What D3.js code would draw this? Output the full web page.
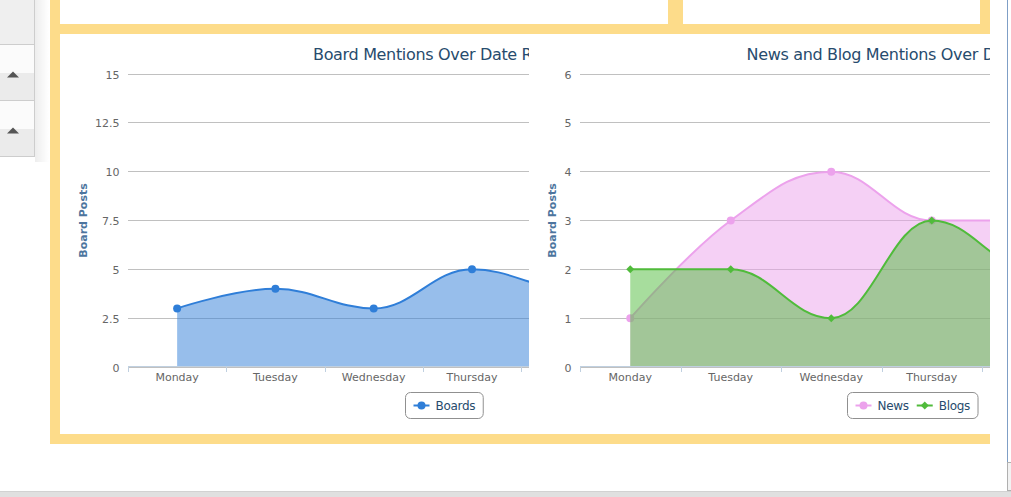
<!DOCTYPE html>
<html><head><meta charset="utf-8">
<script src="https://cdn.jsdelivr.net/npm/d3@7/dist/d3.min.js"></script>
<style>html,body{margin:0;padding:0;background:#fff;overflow:hidden}svg{display:block}</style>
</head><body>
<script>
// ---------- data ----------
const days = ["Monday","Tuesday","Wednesday","Thursday","Friday","Saturday","Sunday"];
const boardValues = [3, 4, 3, 5, 4, 5, 3];
const newsValues  = [1, 3, 4, 3, 3, 3, 2];
const blogValues  = [2, 2, 1, 3, 2, 3, 2];
const boardTicks = [0, 2.5, 5, 7.5, 10, 12.5, 15];
const mediaTicks = [0, 1, 2, 3, 4, 5, 6];
const boardTitle = "Board Mentions Over Date Range";
const mediaTitle = "News and Blog Mentions Over Date Range";
const yAxisTitle = "Board Posts";
const boardSeries = [{name: "Boards", values: boardValues, color: "#2f7ed8", symbol: "circle"}];
const mediaSeries = [
  {name: "News",  values: newsValues, color: "#eca2ec", symbol: "circle"},
  {name: "Blogs", values: blogValues, color: "#50bb3b", symbol: "diamond"}
];

const W = 1011, H = 497;
const FONT = "'DejaVu Sans', Verdana, sans-serif";
const svg = d3.select("body").append("svg").attr("width", W).attr("height", H);
const defs = svg.append("defs");
svg.append("rect").attr("width", W).attr("height", H).attr("fill", "#fff");

// ---------- page chrome ----------
const yellow = "#fddc8a";
const sg = defs.append("linearGradient").attr("id", "sideShadow");
sg.append("stop").attr("offset", 0).attr("stop-color", "#000").attr("stop-opacity", 0.07);
sg.append("stop").attr("offset", 1).attr("stop-color", "#000").attr("stop-opacity", 0);
svg.append("rect").attr("x", 35).attr("y", 0).attr("width", 14).attr("height", 162).attr("fill", "url(#sideShadow)");
svg.append("rect").attr("x", 0).attr("y", 0).attr("width", 34.5).attr("height", 44).attr("fill", "#efefef");
[[45, 73, "#fbfbfb"], [73, 100, "#ebebeb"], [101, 129, "#fbfbfb"], [129, 156, "#ebebeb"]].forEach(([a, b, c]) =>
  svg.append("rect").attr("x", 0).attr("y", a).attr("width", 34.5).attr("height", b - a).attr("fill", c));
[44.5, 100.5, 156.5].forEach(y => svg.append("line").attr("x1", 0).attr("x2", 35).attr("y1", y).attr("y2", y).attr("stroke", "#cdcdcd"));
svg.append("line").attr("x1", 34.5).attr("x2", 34.5).attr("y1", 0).attr("y2", 156.5).attr("stroke", "#cdcdcd");
[77.5, 133.5].forEach(y => svg.append("path").attr("d", `M7,${y}L13,${y - 6}L19,${y}Z`).attr("fill", "#555"));

[[50, 0, 10, 444], [50, 24, 940, 10], [668, 0, 15, 34], [980, 0, 10, 34], [50, 434, 940, 10]].forEach(([x, y, w, h]) =>
  svg.append("rect").attr("x", x).attr("y", y).attr("width", w).attr("height", h).attr("fill", yellow));

svg.append("line").attr("x1", 1007.5).attr("x2", 1007.5).attr("y1", 0).attr("y2", 462).attr("stroke", "#7f9fc6");
svg.append("rect").attr("x", 1007.5).attr("y", 462.5).attr("width", 5).attr("height", 28).attr("fill", "#f2f2f2").attr("stroke", "#b0b0b0");
svg.append("rect").attr("x", 0).attr("y", 492).attr("width", W).attr("height", 5).attr("fill", "#e0e0e0");
svg.append("line").attr("x1", 0).attr("x2", W).attr("y1", 491.5).attr("y2", 491.5).attr("stroke", "#d2d2d2");

// ---------- Highcharts-like spline ----------
function splinePath(pts, p) {
  const sm = 1.5, den = sm + 1;
  p.moveTo(pts[0][0], pts[0][1]);
  let prevR = pts[0];
  for (let i = 1; i < pts.length; i++) {
    const [x, y] = pts[i];
    let lc = [x, y], rc = [x, y];
    if (i < pts.length - 1) {
      const [lx, ly] = pts[i - 1], [nx, ny] = pts[i + 1];
      let lcx = (sm * x + lx) / den, lcy = (sm * y + ly) / den;
      let rcx = (sm * x + nx) / den, rcy = (sm * y + ny) / den;
      const corr = ((rcy - lcy) * (rcx - x)) / (rcx - lcx) + y - rcy;
      lcy += corr; rcy += corr;
      if (lcy > ly && lcy > y) { lcy = Math.max(ly, y); rcy = 2 * y - lcy; }
      else if (lcy < ly && lcy < y) { lcy = Math.min(ly, y); rcy = 2 * y - lcy; }
      if (rcy > ny && rcy > y) { rcy = Math.max(ny, y); lcy = 2 * y - rcy; }
      else if (rcy < ny && rcy < y) { rcy = Math.min(ny, y); lcy = 2 * y - rcy; }
      lc = [lcx, lcy]; rc = [rcx, rcy];
    }
    p.bezierCurveTo(prevR[0], prevR[1], lc[0], lc[1], x, y);
    prevR = rc;
  }
  return p;
}

function marker(g, sym, x, y, color, r) {
  if (sym === "diamond") {
    g.append("path").attr("d", `M${x},${y - r}L${x + r},${y}L${x},${y + r}L${x - r},${y}Z`).attr("fill", color);
  } else {
    g.append("circle").attr("cx", x).attr("cy", y).attr("r", r).attr("fill", color);
  }
}

// ---------- chart ----------
function drawChart(cfg) {
  const id = "clip" + cfg.key;
  defs.append("clipPath").attr("id", id).append("rect")
    .attr("x", cfg.clip[0]).attr("y", 34).attr("width", cfg.clip[1] - cfg.clip[0]).attr("height", 400);
  const g = svg.append("g").attr("clip-path", `url(#${id})`).style("font-family", FONT);

  const x = d3.scalePoint().domain(days).range([cfg.plotX0, cfg.plotX1]).padding(0.5);
  const xb = d3.scaleBand().domain(days).range([cfg.plotX0, cfg.plotX1]);
  const y = d3.scaleLinear().domain([0, cfg.ticks[cfg.ticks.length - 1]]).range([367, 74]);
  const cy = v => Math.floor(y(v)) + 0.5;

  g.append("text").attr("x", cfg.titleX).attr("y", 59.5).attr("fill", "#274b6d")
    .attr("font-size", 16).attr("letter-spacing", -0.33).text(cfg.title);

  cfg.ticks.forEach(t => {
    g.append("line").attr("x1", cfg.plotX0).attr("x2", cfg.plotX1).attr("y1", cy(t)).attr("y2", cy(t))
      .attr("stroke", "#c0c0c0");
    g.append("text").attr("x", cfg.plotX0 - 8.5).attr("y", cy(t) + 4).attr("text-anchor", "end")
      .attr("fill", "#666").attr("font-size", 11).text(String(t));
  });

  g.append("text").attr("transform", `translate(${cfg.yTitleX},220.5) rotate(-90)`)
    .attr("text-anchor", "middle").attr("fill", "#4d759e").attr("font-size", 11).attr("font-weight", "bold")
    .text(yAxisTitle);

  cfg.series.forEach(s => {
    const pts = s.values.map((v, i) => [x(days[i]), y(v)]);
    const area = splinePath(pts, d3.path());
    area.lineTo(pts[pts.length - 1][0], y(0));
    area.lineTo(pts[0][0], y(0));
    area.closePath();
    g.append("path").attr("d", area.toString()).attr("fill", s.color).attr("fill-opacity", 0.5);
    g.append("path").attr("d", splinePath(pts, d3.path()).toString()).attr("fill", "none")
      .attr("stroke", s.color).attr("stroke-width", 2).attr("stroke-linejoin", "round");
    pts.forEach(([px, py]) => { if (px < cfg.clip[1] + 5) marker(g, s.symbol, px, py, s.color, 4); });
  });

  g.append("line").attr("x1", cfg.plotX0).attr("x2", cfg.plotX1).attr("y1", 366.5).attr("y2", 366.5).attr("stroke", "#c0d0e0");
  days.forEach(d => {
    const tx = Math.round(xb(d)) + 0.5;
    g.append("line").attr("x1", tx).attr("x2", tx).attr("y1", 367).attr("y2", 372).attr("stroke", "#c0d0e0");
    if (x(d) + 30 < cfg.clip[1]) {
      g.append("text").attr("x", x(d)).attr("y", 381).attr("text-anchor", "middle").attr("fill", "#666")
        .attr("font-size", 11).text(d);
    }
  });

  const lg = g.append("g");
  let cx = 0;
  const items = [];
  cfg.series.forEach(s => {
    const it = lg.append("g");
    it.append("line").attr("x1", 0).attr("x2", 16).attr("y1", 0).attr("y2", 0).attr("stroke", s.color).attr("stroke-width", 2);
    marker(it, s.symbol, 8, 0, s.color, 4);
    const t = it.append("text").attr("x", 22).attr("y", 4.5).attr("fill", "#274b6d").attr("font-size", 12)
      .attr("letter-spacing", -0.3).text(s.name);
    const w = 22 + t.node().getComputedTextLength();
    items.push({it, off: cx});
    cx += w + 8;
  });
  const boxW = cx - 8 + 16;
  const bx = Math.round(cfg.legendCenter - boxW / 2) + 0.5;
  lg.insert("rect", ":first-child").attr("x", bx).attr("y", 392.5).attr("width", boxW).attr("height", 26)
    .attr("rx", 5).attr("fill", "#fff").attr("stroke", "#909090");
  items.forEach(({it, off}) => it.attr("transform", `translate(${bx + 8 + off},405.5)`));
}

drawChart({key: "L", clip: [60, 529], plotX0: 128, plotX1: 816, ticks: boardTicks, title: boardTitle,
  titleX: 313, yTitleX: 86.5, series: boardSeries, legendCenter: 443.5});
drawChart({key: "R", clip: [529, 990], plotX0: 580, plotX1: 1283.5, ticks: mediaTicks, title: mediaTitle,
  titleX: 746.5, yTitleX: 556, series: mediaSeries, legendCenter: 912.5});
</script>
</body></html>
